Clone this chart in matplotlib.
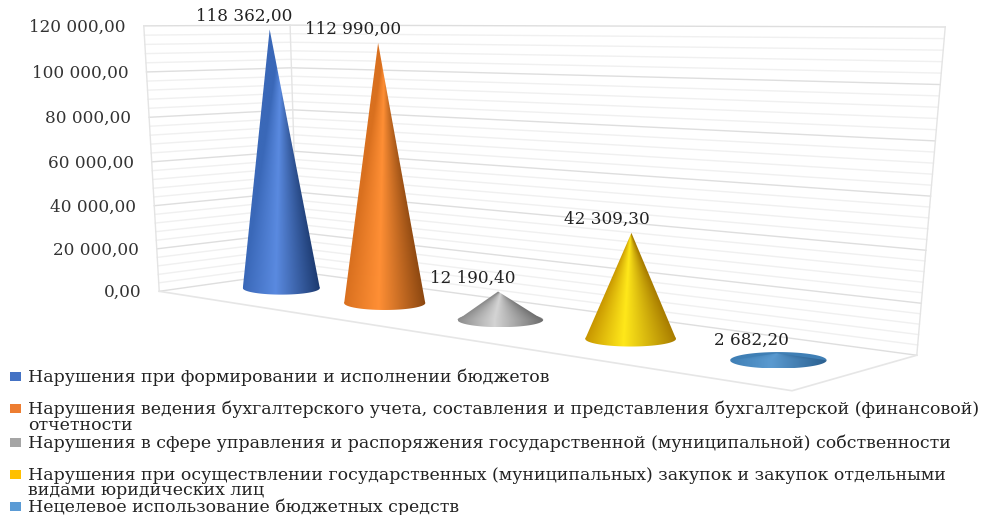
#!/usr/bin/env python3
"""3D cone chart, redrawn on a flat axes with a fitted perspective projection."""

import numpy as np
import matplotlib
matplotlib.use("Agg")
import matplotlib.pyplot as plt
from matplotlib.colors import to_rgb
from matplotlib.patches import Polygon, Rectangle

values = [118362.00, 112990.00, 12190.40, 42309.30, 2682.20]
value_labels = ["118 362,00", "112 990,00", "12 190,40", "42 309,30", "2 682,20"]
tick_values = [0, 20000, 40000, 60000, 80000, 100000, 120000]
tick_labels = ["0,00", "20 000,00", "40 000,00", "60 000,00", "80 000,00", "100 000,00", "120 000,00"]
legend_labels = [
    "Нарушения при формировании и исполнении бюджетов",
    "Нарушения ведения бухгалтерского учета, составления и представления бухгалтерской (финансовой)\nотчетности",
    "Нарушения в сфере управления и распоряжения государственной (муниципальной) собственности",
    "Нарушения при осуществлении государственных (муниципальных) закупок и закупок отдельными\nвидами юридических лиц",
    "Нецелевое использование бюджетных средств",
]
legend_colors = ["#4472c4", "#ed7d31", "#a5a5a5", "#ffc000", "#5b9bd5"]
legend_y = [377, 409, 443, 475, 507]

# left / highlight / right shades of each cone
shades = [
    ("#3a68b8", "#5a8ae0", "#1c3a70"),
    ("#d9701f", "#ff8f35", "#8a4610"),
    ("#8c8c8c", "#d4d4d4", "#6a6a6a"),
    ("#c79500", "#ffe81a", "#a87c00"),
    ("#3f7fb5", "#5a9ad0", "#2a5f8f"),
]

Z_MAX = 120000

# box corners (u along categories, v into depth, z value) -> image pixels
box_points = [
    (0, 0, 0, 160, 291), (1, 0, 0, 792, 391), (0, 1, 0, 297, 272), (1, 1, 0, 917, 355),
    (0, 0, 1, 143, 26), (0, 1, 1, 291, 25), (1, 1, 1, 945, 27),
]


def fit_projection(points):
    rows = []
    for u, v, z, x, y in points:
        rows.append([u, v, z, 1, 0, 0, 0, 0, -x * u, -x * v, -x * z])
        rows.append([0, 0, 0, 0, u, v, z, 1, -y * u, -y * v, -y * z])
    b = [c for p in points for c in p[3:]]
    sol = np.linalg.lstsq(np.array(rows, float), np.array(b, float), rcond=None)[0]
    return np.append(sol, 1).reshape(3, 4)


P = fit_projection(box_points)


def project(u, v, value):
    x, y, w = P @ np.array([u, v, value / Z_MAX, 1.0])
    return x / w, y / w


def cone(ax, u, value, shade):
    cx, cy = project(u, 0.5, 0)
    _, ref = project(u, 0.5, 10000)
    scale = (cy - ref) / 10000
    tip = project(u, 0.5, value)
    cx += 2.5  # base sits a little right of the tip in the source
    rx = 18400 * scale
    ry = rx * 0.17
    stops = np.array([to_rgb(c) for c in shade])

    # shading follows the angle round the cone, so it narrows towards the tip
    x = np.linspace(cx - rx, cx + rx, 200)
    y = np.linspace(tip[1], cy + ry, 300)
    xx, yy = np.meshgrid(x, y)
    half = np.clip(rx * (yy - tip[1]) / (cy - tip[1]), 0.5, rx)
    s = np.clip((xx - cx) / half, -1, 1)
    rgb = np.dstack([np.interp(s, [-1, -0.15, 1], stops[:, k]) for k in range(3)])
    img = ax.imshow(rgb, extent=(x[0], x[-1], y[-1], y[0]), aspect="auto", zorder=4, interpolation="bilinear")

    t = np.linspace(0, np.pi, 80)
    arc = np.column_stack([cx + rx * np.cos(t), cy + ry * np.sin(t)])
    clip = Polygon(np.vstack([[tip], arc]), transform=ax.transData)
    img.set_clip_path(clip)

    # back half of the base, only seen on very flat cones
    t2 = np.linspace(np.pi, 2 * np.pi, 60)
    ax.fill(cx + rx * np.cos(t2), cy + ry * np.sin(t2), color=shade[0], lw=0, zorder=3)
    return tip


fig = plt.figure(figsize=(9.87, 5.15), dpi=100)
ax = fig.add_axes([0, 0, 1, 1])
ax.axis("off")

# ---- walls ----
for z in range(0, Z_MAX + 1, 4000):
    major = z % 20000 == 0
    col = "#dedede" if major else "#f0f0f0"
    pts = [project(0, 0, z), project(0, 1, z), project(1, 1, z)]
    ax.plot(*zip(*pts), color=col, lw=1.0, zorder=1)
for u, v in [(0, 0), (0, 1), (1, 1)]:
    ax.plot(*zip(project(u, v, 0), project(u, v, Z_MAX)), color="#e4e4e4", lw=1.0, zorder=1)
floor = [project(0, 0, 0), project(1, 0, 0), project(1, 1, 0)]
ax.plot(*zip(*floor), color="#e6e6e6", lw=1.2, zorder=1)

# ---- y ticks ----
for val, lab in zip(tick_values, tick_labels):
    x, y = project(0, 0, val)
    ax.text(x - 18, y + 1.5, lab, ha="right", va="center", family="DejaVu Serif", fontsize=12.2, color="#333333")

# ---- cones ----
for i, (val, lab, shade) in enumerate(zip(values, value_labels, shades)):
    tip = cone(ax, (i + 0.5) / len(values), val, shade)
    ax.annotate(lab, tip, xytext=(-18, 9.5), textcoords="offset points", ha="center", va="center",
                family="DejaVu Serif", fontsize=12.2, color="#222222", zorder=5)

# ---- legend ----
for lab, col, y in zip(legend_labels, legend_colors, legend_y):
    ax.add_patch(Rectangle((10, y - 5), 11, 9, color=col, lw=0))
    ax.text(28, y - 8, lab, ha="left", va="top", family="DejaVu Serif", fontsize=12.5,
            color="#222222", linespacing=0.86)

ax.set_xlim(0, 987)
ax.set_ylim(515, 0)

fig.savefig("out.png", dpi=100)
